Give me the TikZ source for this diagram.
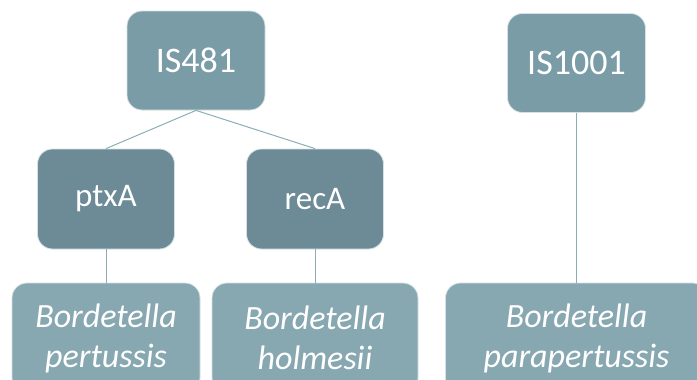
\documentclass[tikz,border=0pt]{standalone}
\usepackage{fontspec}
\setmainfont{Carlito}
\usetikzlibrary{shapes}
\definecolor{insblue}{RGB}{122,156,167}
\definecolor{geneblue}{RGB}{108,139,150}
\definecolor{hostblue}{RGB}{135,167,177}
\definecolor{linkblue}{RGB}{140,173,184}
\tikzset{
box/.style={
	  draw=white!70!insblue, line width=0.8pt, rounded corners=15pt,
	    text=white, align=center},
insert/.style={box, fill=insblue, minimum width=138pt, minimum
    height=99pt, font=\fontsize{36}{40}\selectfont},
gene/.style={box, fill=geneblue, minimum width=137pt, minimum
    height=100pt, font=\fontsize{33}{38}\selectfont},
host/.style={box, fill=hostblue, minimum height=110pt,
    font=\fontsize{34}{40}\selectfont\itshape}
}

\begin{document}
\begin{tikzpicture}[x=1pt, y=1pt, parent anchor=south, child anchor=north,
	edge from parent/.style={draw=linkblue, line width=1pt},
	level 1/.style={sibling distance=209pt, level distance=138.5pt},
	level 2/.style={level distance=139pt}]
	\clip (0,0) rectangle (697,-380);
	\node[insert] (is481) at (196,-60.5) {IS481}
	child[xshift=14.5pt]{ node[gene] (ptxa) {ptxA}
		child { node[host, minimum width=188pt] (pertussis) {Bordetella\\pertussis} }
	}
	child[xshift=14.5pt]{ node[gene] (reca) {recA}
		child { node[host, minimum width=206pt] (holmesii) {Bordetella\\holmesii} }
	};
	\node[insert] (is1001) at (576.5,-63) {IS1001}
	child[level distance=275pt]{ node[host, minimum width=262pt] (parapertussis) {Bordetella\\parapertussis} };
\end{tikzpicture}
\end{document}
